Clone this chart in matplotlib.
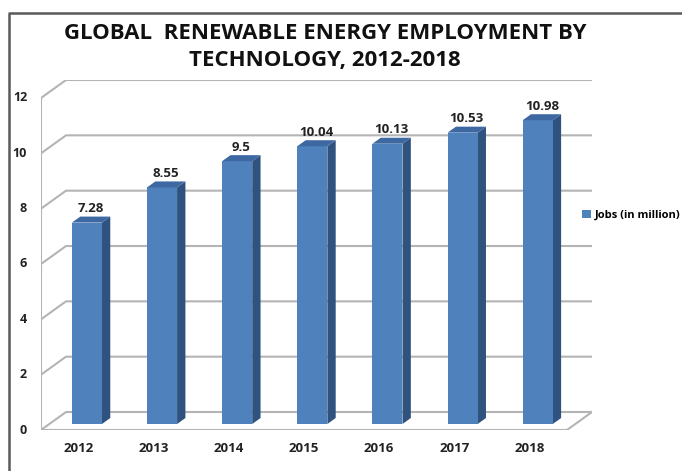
import matplotlib
matplotlib.use("Agg")
import matplotlib.pyplot as plt
from matplotlib.patches import Polygon, Patch
from matplotlib.lines import Line2D

plt.rcParams["font.family"] = ["Open Sans", "DejaVu Sans"]

years = ["2012", "2013", "2014", "2015", "2016", "2017", "2018"]
jobs = [7.28, 8.55, 9.5, 10.04, 10.13, 10.53, 10.98]
y_ticks = [0, 2, 4, 6, 8, 10, 12]
series_name = "Jobs (in million)"
title = "GLOBAL  RENEWABLE ENERGY EMPLOYMENT BY\nTECHNOLOGY, 2012-2018"

# fake 3d: depth offset of the back wall, in data units
DX, DY = 0.333, 0.65
BAR_W = 0.4
grid_col = "#b4b4b4"
front_col = "#4f81bd"
side_col = "#30527e"
top_col = "#3d68a2"

W, H = 682, 471
fig = plt.figure(figsize=(W / 100, H / 100), dpi=100)
ax = fig.add_axes([41 / W, 41 / H, 551 / W, 350 / H])
n = len(years)
x0, x1 = -0.5, n - 0.5
ax.set_xlim(x0, x1 + DX)
ax.set_ylim(0, y_ticks[-1] + DY)
ax.axis("off")

# walls / gridlines
for v in y_ticks:
    ax.plot([x0, x0 + DX, x1 + DX], [v, v + DY, v + DY], color=grid_col, lw=1.5,
            solid_capstyle="butt", zorder=1)
    ax.annotate(str(v), (x0, v), xytext=(-10, 0), textcoords="offset points",
                ha="right", va="center", fontsize=9, fontweight="bold", color="#222222")
ax.plot([x1 + DX, x1, x0, x0], [DY, 0, 0, y_ticks[-1]], color=grid_col, lw=1.5, zorder=1)

# bars
bx, by = DX / 3, DY / 3
for i, v in enumerate(jobs):
    l = i - BAR_W / 2 + bx
    r = i + BAR_W / 2 + bx
    front = [(l, by), (r, by), (r, v + by), (l, v + by)]
    side = [(r, by), (r + bx, 2 * by), (r + bx, v + 2 * by), (r, v + by)]
    top = [(l, v + by), (r, v + by), (r + bx, v + 2 * by), (l + bx, v + 2 * by)]
    ax.add_patch(Polygon(side, closed=True, fc=side_col, ec="none", zorder=3))
    ax.add_patch(Polygon(front, closed=True, fc=front_col, ec="none", zorder=3))
    ax.add_patch(Polygon(top, closed=True, fc=top_col, ec="none", zorder=3))
    ax.annotate(str(v), (i + bx + bx / 2, v + 2 * by), xytext=(0, 1),
                textcoords="offset points", ha="center", va="bottom",
                fontsize=9.5, fontweight="bold", color="#222222", zorder=4)
    ax.annotate(years[i], (i, 0), xytext=(0, -13), textcoords="offset points",
                ha="center", va="center", fontsize=9.5, fontweight="bold", color="#222222")

fig.text(325 / W, 1 - 47 / H, title, ha="center", va="center", fontsize=16,
         fontweight="bold", linespacing=1.38, color="#111111")

fig.legend(handles=[Patch(fc=front_col, ec="none", label=series_name)],
           loc="center left", bbox_to_anchor=(578 / W, 1 - 215 / H), frameon=False,
           prop={"size": 8, "weight": "bold"}, handlelength=0.75, handleheight=0.75,
           handletextpad=0.35, borderaxespad=0)

# chart border (top and left edges visible)
fig.add_artist(Line2D([9 / W, 9 / W, 1], [0, 1 - 13 / H, 1 - 13 / H],
                      transform=fig.transFigure, color="#5a5a5a", lw=1.8))

fig.savefig("out.png", dpi=100, facecolor="white")
